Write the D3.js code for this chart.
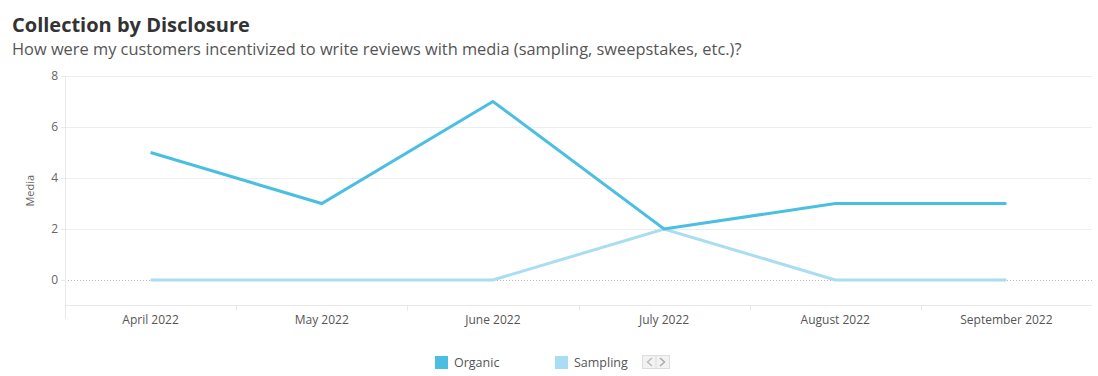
<!DOCTYPE html>
<html><head><meta charset="utf-8">
<script src="https://cdn.jsdelivr.net/npm/d3@7"></script>
<style>body{margin:0;background:#fff;font-family:"Open Sans","Noto Sans",sans-serif;}</style>
</head><body><svg id="c" width="1098" height="376"></svg>
<script>
const months = ["April 2022","May 2022","June 2022","July 2022","August 2022","September 2022"];
const organic = [5,3,7,2,3,3];
const sampling = [0,0,0,2,0,0];
const yTicks = [0,2,4,6,8];
const seriesNames = ["Organic","Sampling"];
const colors = ["#4BBFE1","#A9DDF1"];

const svg = d3.select("#c");
const L=65, R=1092, T=76, B=305.5;
const x = d3.scaleBand().domain(months).range([L,R]);
const y = d3.scaleLinear().domain([-1,8]).range([B,T]);

svg.append("text").attr("x",12).attr("y",32).text("Collection by Disclosure")
  .attr("font-size",20).attr("font-weight",700).attr("fill","#333");
svg.append("text").attr("x",12).attr("y",55).text("How were my customers incentivized to write reviews with media (sampling, sweepstakes, etc.)?")
  .attr("font-size",16.4).attr("fill","#555");

// gridlines
svg.append("g").selectAll("line").data(yTicks.filter(d=>d!==0)).join("line")
  .attr("x1",L).attr("x2",R).attr("y1",d=>Math.round(y(d))+0.5).attr("y2",d=>Math.round(y(d))+0.5)
  .attr("stroke","#eeeeee");
svg.append("line").attr("x1",L).attr("x2",R).attr("y1",y(0)+0.5).attr("y2",y(0)+0.5)
  .attr("stroke","#b8b8b8").attr("stroke-dasharray","1,2");
// frame
svg.append("line").attr("x1",L+0.5).attr("x2",L+0.5).attr("y1",T).attr("y2",B+13).attr("stroke","#e8e8e8");
svg.append("line").attr("x1",L).attr("x2",R).attr("y1",B).attr("y2",B).attr("stroke","#e8e8e8");

// y axis
const ya = svg.append("g").attr("transform",`translate(${L},0)`)
  .call(d3.axisLeft(y).tickValues(yTicks).tickSize(4).tickPadding(3));
ya.select(".domain").remove();
ya.selectAll("line").attr("stroke","#e8e8e8");
ya.selectAll("text").attr("fill","#666").attr("font-size",12).attr("font-family","'Open Sans','Noto Sans',sans-serif");
svg.append("text").attr("transform",`translate(34,${y(3.5)}) rotate(-90)`).attr("text-anchor","middle")
  .text("Media").attr("font-size",11).attr("fill","#666");

// x axis
const xa = svg.append("g").attr("transform",`translate(0,${B})`)
  .call(d3.axisBottom(x).tickSize(0).tickPadding(10));
xa.select(".domain").remove();
xa.selectAll("text").attr("fill","#555").attr("font-size",12).attr("font-family","'Open Sans','Noto Sans',sans-serif");
svg.append("g").selectAll("line").data(months.slice(1)).join("line")
  .attr("x1",d=>Math.round(x(d))+0.5).attr("x2",d=>Math.round(x(d))+0.5).attr("y1",B).attr("y2",B+5).attr("stroke","#e8e8e8");

const line = d3.line().x((d,i)=>x(months[i])+x.bandwidth()/2).y(d=>y(d));
[sampling, organic].forEach((s,k)=>{
  const c = k===0?colors[1]:colors[0];
  svg.append("path").datum(s).attr("d",line).attr("fill","none").attr("stroke",c).attr("stroke-width",3)
    .attr("stroke-linejoin","miter");
});

// legend
const lg = svg.append("g");
const lx=[435,555];
seriesNames.forEach((n,i)=>{
  lg.append("rect").attr("x",lx[i]).attr("y",356).attr("width",13).attr("height",13).attr("fill",colors[i]);
  lg.append("text").attr("x",lx[i]+19).attr("y",367).text(n).attr("font-size",12.5).attr("fill","#555");
});
lg.append("rect").attr("x",642.5).attr("y",355.5).attr("width",27).attr("height",13).attr("fill","#f2f2f2").attr("stroke","#ddd");
lg.append("line").attr("x1",656).attr("x2",656).attr("y1",356).attr("y2",368).attr("stroke","#ddd");
lg.append("path").attr("d","M652,358 L647.5,362 L652,366").attr("fill","none").attr("stroke","#bbb").attr("stroke-width",1.5);
lg.append("path").attr("d","M660,358 L664.5,362 L660,366").attr("fill","none").attr("stroke","#aaa").attr("stroke-width",1.5);
</script></body></html>
